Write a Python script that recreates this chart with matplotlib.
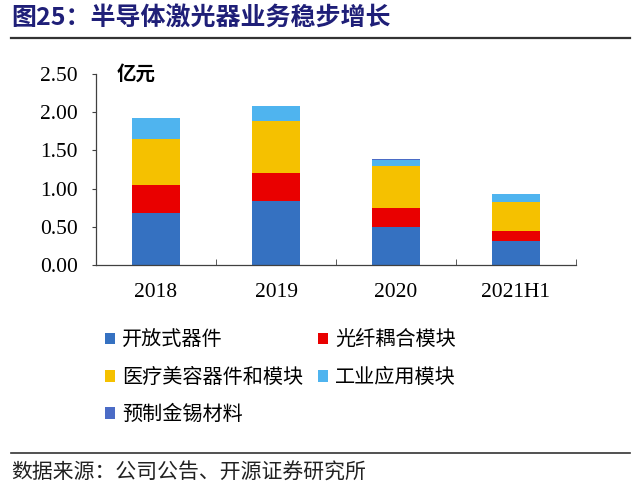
import matplotlib
matplotlib.use("Agg")
import matplotlib.pyplot as plt
from matplotlib.lines import Line2D
from matplotlib.patches import Patch
import numpy as np

categories = ["2018", "2019", "2020", "2021H1"]
series_names = ["开放式器件", "光纤耦合模块", "医疗美容器件和模块", "工业应用模块", "预制金锡材料"]
open_dev = [0.68, 0.835, 0.50, 0.31]
fiber = [0.37, 0.375, 0.24, 0.14]
medical = [0.60, 0.675, 0.555, 0.37]
industrial = [0.27, 0.19, 0.08, 0.115]
gold_tin = [0.0, 0.0, 0.012, 0.0]
yticks = [0.0, 0.5, 1.0, 1.5, 2.0, 2.5]

colors = ["#3571C1", "#E90000", "#F5C100", "#4FB4EF", "#4B6CC6"]
series = [open_dev, fiber, medical, industrial, gold_tin]

cjk = ["Noto Sans CJK SC", "DejaVu Sans"]
serif = ["Liberation Serif", "DejaVu Serif"]

fig = plt.figure(figsize=(6.4, 4.91), dpi=100)
ax = fig.add_axes([0.15, 0.4603, 0.75, 0.389])

x = np.arange(len(categories))
bottom = np.zeros(len(categories))
handles = []
for name, vals, c in zip(series_names, series, colors):
    ax.bar(x, vals, width=0.4, bottom=bottom, color=c, edgecolor="none")
    bottom += np.array(vals)
    handles.append(Patch(facecolor=c, edgecolor="none", label=name))

ax.set_xlim(-0.5, len(categories) - 0.5)
ax.set_ylim(0, 2.5)
ax.set_yticks(yticks)
ax.set_yticklabels([f"{v:.2f}" for v in yticks], fontfamily=serif, fontsize=15.5)
ax.set_xticks(x)
ax.set_xticklabels(categories, fontfamily=serif, fontsize=15.5)
ax.tick_params(axis="x", length=0, pad=13)
ax.set_xticks(np.arange(0.5, len(categories), 1), minor=True)
ax.tick_params(axis="x", which="minor", direction="in", length=4, color="#404040")
ax.tick_params(axis="y", direction="out", length=3, color="#404040", pad=10)
for s in ["top", "right"]:
    ax.spines[s].set_visible(False)
for s in ["left", "bottom"]:
    ax.spines[s].set_color("#404040")
    ax.spines[s].set_linewidth(0.9)

ax.text(-0.325, 2.5, "亿元", fontfamily=cjk, fontsize=14, fontweight="bold",
        ha="left", va="center")

order = [0, 2, 4, 1, 3]
leg = fig.legend([handles[i] for i in order], [series_names[i] for i in order],
                 ncol=2, loc="upper left", bbox_to_anchor=(0.148, 0.349),
                 frameon=False, prop={"family": cjk, "size": 14.5},
                 handlelength=0.5, handleheight=0.5, handletextpad=0.35,
                 columnspacing=0.75, labelspacing=0.81, borderpad=0)

# title
fig.text(0.018, 0.963, "图25：半导体激光器业务稳步增长", fontfamily=cjk, fontsize=18,
         fontweight="bold", color="#1F1F78", ha="left", va="center")
fig.add_artist(Line2D([0.017, 0.985], [0.923, 0.923], transform=fig.transFigure,
                      color="#333333", linewidth=1.6))
fig.add_artist(Line2D([0.017, 0.985], [0.077, 0.077], transform=fig.transFigure,
                      color="#333333", linewidth=1.2))
fig.text(0.018, 0.037, "数据来源：公司公告、开源证券研究所", fontfamily=cjk, fontsize=15,
         color="#222222", ha="left", va="center")

fig.savefig("out.png", dpi=100)
